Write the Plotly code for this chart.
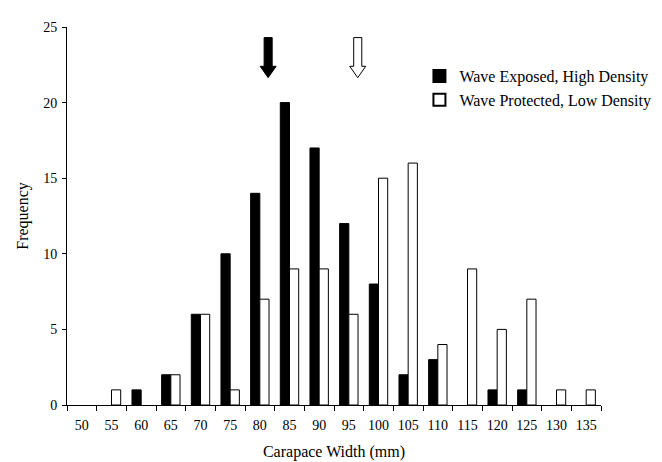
import plotly.graph_objects as go

widths = [50, 55, 60, 65, 70, 75, 80, 85, 90, 95, 100, 105, 110, 115, 120, 125, 130, 135]
exposed = [0, 0, 1, 2, 6, 10, 14, 20, 17, 12, 8, 2, 3, 0, 1, 1, 0, 0]
protected = [0, 1, 0, 2, 6, 1, 7, 9, 9, 6, 15, 16, 4, 9, 5, 7, 1, 1]
arrow_x = [81.4, 96.5]          # marker arrows (exposed, protected)
arrow_fill = ["black", "white"]
y_ticks = [0, 5, 10, 15, 20, 25]

FONT = "Liberation Serif"
BW = 1.55


def nz(vals):
    # empty classes drawn as no bar at all
    return [v if v else None for v in vals]


fig = go.Figure()
fig.add_trace(go.Bar(
    x=widths, y=nz(exposed), name="Wave Exposed, High Density",
    width=BW, offset=-BW,
    marker=dict(color="black", line=dict(color="black", width=1)),
))
fig.add_trace(go.Bar(
    x=widths, y=nz(protected), name="Wave Protected, Low Density",
    width=BW, offset=0,
    marker=dict(color="white", line=dict(color="black", width=1)),
))

# arrows drawn as paths in data coordinates
y_top, y_neck, y_tip = 24.3, 22.4, 21.65
sw, hw = 0.68, 1.35
for ax_, fc in zip(arrow_x, arrow_fill):
    path = (f"M {ax_-sw},{y_top} L {ax_+sw},{y_top} L {ax_+sw},{y_neck} "
            f"L {ax_+hw},{y_neck} L {ax_},{y_tip} L {ax_-hw},{y_neck} "
            f"L {ax_-sw},{y_neck} Z")
    fig.add_shape(type="path", path=path, xref="x", yref="y",
                  fillcolor=fc, line=dict(color="black", width=1))

bounds = [w - 2.5 for w in widths] + [widths[-1] + 2.5]

fig.update_layout(
    width=662, height=462,
    margin=dict(l=59, r=69, t=15, b=58),
    paper_bgcolor="white", plot_bgcolor="white",
    barmode="overlay",
    font=dict(family=FONT, size=14, color="black"),
    showlegend=True,
    legend=dict(x=0.66, y=0.915, xanchor="left", yanchor="top",
                font=dict(size=16, family=FONT), bgcolor="rgba(0,0,0,0)",
                tracegroupgap=0, itemsizing="constant"),
    xaxis=dict(
        range=[bounds[0], bounds[-1]],
        tickmode="array", tickvals=widths, ticktext=[str(w) for w in widths],
        ticks="", showline=True, linecolor="black", linewidth=1,
        showgrid=False, zeroline=False,
        tickfont=dict(size=14), ticklabelstandoff=7,
        minor=dict(tickmode="array", tickvals=bounds, ticks="outside",
                   ticklen=5, tickcolor="black", tickwidth=1, showgrid=False),
        title=dict(text="Carapace Width (mm)", font=dict(size=16), standoff=14),
    ),
    yaxis=dict(
        range=[0, 25], tickmode="array", tickvals=y_ticks,
        ticks="outside", ticklen=4, tickcolor="black",
        showline=True, linecolor="black", linewidth=1,
        showgrid=False, zeroline=False,
        tickfont=dict(size=14), ticklabelstandoff=2,
        title=dict(text="Frequency", font=dict(size=16), standoff=10),
    ),
)

fig.write_html("out.html")
